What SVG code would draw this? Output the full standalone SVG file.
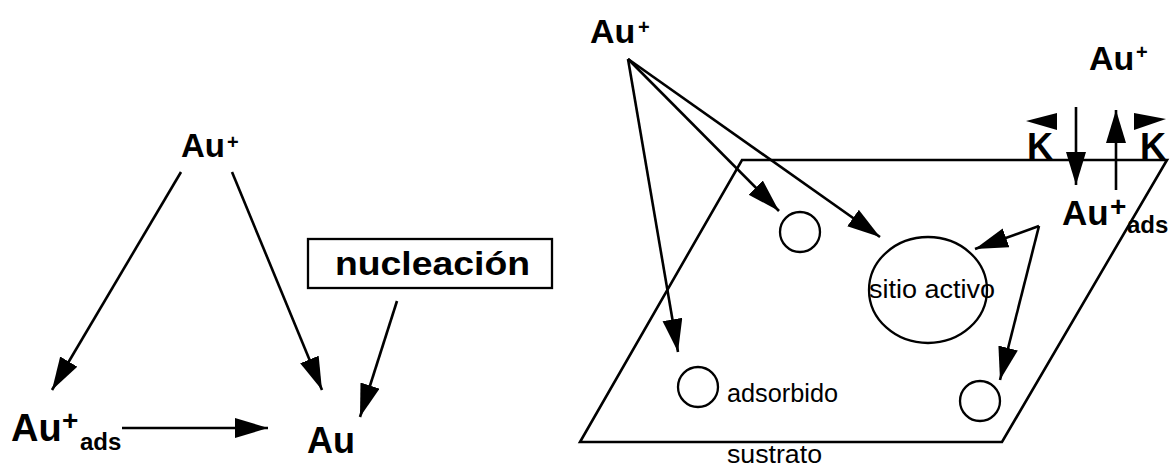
<svg xmlns="http://www.w3.org/2000/svg" width="1173" height="466" viewBox="0 0 1173 466">
<defs>
<marker id="ah" markerUnits="userSpaceOnUse" markerWidth="36" markerHeight="22" refX="33" refY="10" orient="auto">
<path d="M0,0 L33,10 L0,20 z" fill="#000"/>
</marker>
<style>
.b{font-family:"Liberation Sans",Arial,sans-serif;font-weight:bold;fill:#000}
.r{font-family:"Liberation Sans",Arial,sans-serif;fill:#000}
.ln{stroke:#000;stroke-width:2.6;fill:none}
.ar{stroke:#000;stroke-width:2.6;fill:none;marker-end:url(#ah)}
.sh{stroke:#000;stroke-width:2.3;fill:none}
</style>
</defs>
<rect width="1173" height="466" fill="#fff"/>

<g id="left-au-top">
<text class="b" x="181" y="157" font-size="33">Au</text>
<text class="b" x="227" y="149" font-size="20">+</text>
</g>
<g id="left-au-ads">
<text class="b" x="11" y="441" font-size="38">Au</text>
<text class="b" x="62" y="430" font-size="28">+</text>
<text class="b" x="80" y="450" font-size="24">ads</text>
</g>
<g id="left-au">
<text class="b" x="307" y="453" font-size="36">Au</text>
</g>
<g id="nucleacion">
<rect x="308" y="239" width="244" height="49" class="sh"/>
<text class="b" x="335" y="275" font-size="34" textLength="195" lengthAdjust="spacingAndGlyphs">nucleación</text>
</g>

<g id="sustrato">
<polygon points="742,160 1167,160 1002,442 580,442" class="ln"/>
<text class="r" x="727" y="463" font-size="25" textLength="95" lengthAdjust="spacingAndGlyphs">sustrato</text>
</g>
<g id="site-small-top"><circle cx="800" cy="232" r="20" class="sh"/></g>
<g id="site-adsorbido">
<circle cx="698" cy="387" r="20" class="sh"/>
<text class="r" x="727" y="402" font-size="25" textLength="111" lengthAdjust="spacingAndGlyphs">adsorbido</text>
</g>
<g id="site-right"><circle cx="980" cy="401" r="20" class="sh"/></g>
<g id="sitio-activo">
<ellipse cx="928" cy="290" rx="59" ry="53" class="sh"/>
<text class="r" x="869" y="298" font-size="26" textLength="126" lengthAdjust="spacingAndGlyphs">sitio activo</text>
</g>

<g id="right-au-top-left">
<text class="b" x="590" y="43" font-size="34">Au</text>
<text class="b" x="638" y="34" font-size="20">+</text>
</g>
<g id="right-au-top-right">
<text class="b" x="1089" y="70" font-size="34">Au</text>
<text class="b" x="1136" y="59" font-size="20">+</text>
</g>
<g id="right-au-ads">
<text class="b" x="1062" y="225" font-size="35">Au</text>
<text class="b" x="1110" y="216" font-size="28">+</text>
<text class="b" x="1127" y="233" font-size="24">ads</text>
</g>
<g id="k-left">
<text class="b" x="1027" y="159" font-size="36">K</text>
<polygon points="1026,121 1057,113 1057,130" fill="#000"/>
</g>
<g id="k-right">
<text class="b" x="1140" y="159" font-size="36">K</text>
<polygon points="1166,119 1134,113 1134,130" fill="#000"/>
</g>

<g id="connectors">
<line x1="181" y1="172" x2="52" y2="390" class="ar"/>
<line x1="232" y1="172" x2="322" y2="390" class="ar"/>
<line x1="397" y1="301" x2="360" y2="417" class="ar"/>
<line x1="122" y1="428" x2="268" y2="428" class="ar"/>
<line x1="628" y1="59" x2="779" y2="211" class="ar"/>
<line x1="628" y1="59" x2="880" y2="237" class="ar"/>
<line x1="628" y1="59" x2="678" y2="352" class="ar"/>
<line x1="1039" y1="226" x2="975" y2="249" class="ar"/>
<line x1="1039" y1="226" x2="1000" y2="380" class="ar"/>
<line x1="1076" y1="107" x2="1076" y2="185" class="ar"/>
<line x1="1116" y1="190" x2="1116" y2="110" class="ar"/>
</g>
</svg>
